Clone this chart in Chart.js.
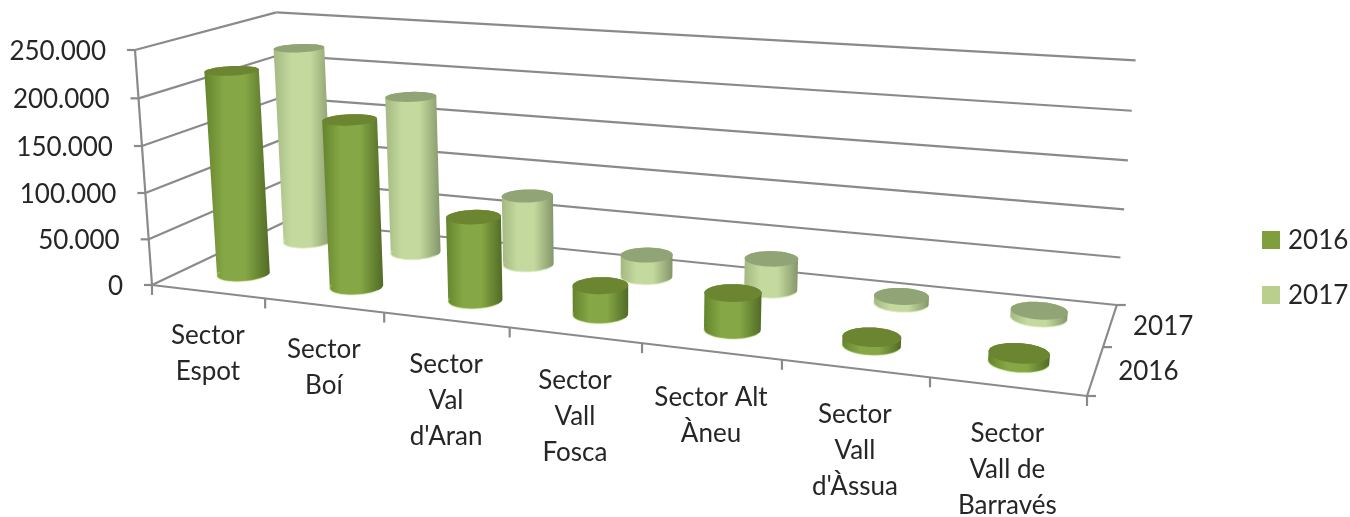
<!DOCTYPE html>
<html>
<head>
<meta charset="utf-8">
<script src="https://cdn.jsdelivr.net/npm/chart.js@4/dist/chart.umd.min.js"></script>
<style>
  html, body { margin: 0; padding: 0; background: #fff; }
  #wrap { width: 1350px; height: 517px; }
</style>
</head>
<body>
<div id="wrap"><canvas id="chart" width="1350" height="517"></canvas></div>
<script>
// Chart values
const categories = [
    ['Sector', 'Espot'],
    ['Sector', 'Boí'],
    ['Sector', 'Val', "d'Aran"],
    ['Sector', 'Vall', 'Fosca'],
    ['Sector Alt', 'Àneu'],
    ['Sector', 'Vall', "d'Àssua"],
    ['Sector', 'Vall de', 'Barravés']
];
const seriesNames = ['2016', '2017'];
const values2016 = [221000, 178500, 88000, 30000, 37000, 8000, 8500];
const values2017 = [223000, 177000, 77000, 24000, 33500, 7500, 7500];

const FONT = '26px Lato';
const TEXT_COLOR = '#262626';
const GRID_COLOR = '#8a8a8a';

// Colours per series: swatch, cylinder left edge, centre, right edge, top cap, base rim
const palette = [
    { swatch: '#7f9f3f', left: '#64842d', mid: '#86a745', right: '#506b26', cap: '#6c8530', rim: 'rgba(190,220,120,0.4)' },
    { swatch: '#b9cf8e', left: '#a3b982', mid: '#c4d99d', right: '#84966a', cap: '#91a476', rim: 'rgba(215,232,180,0.6)' }
];

// Where the corners of the 3D box land on screen (floor front/back, wall top)
const floorFrontLeft = { x: 152, y: 285 };
const floorFrontRight = { x: 1087, y: 396 };
const floorBackLeft = { x: 287, y: 221 };
const wallTopFront = { x: 135, y: 50 };
const weightRight = 0.826;
const weightBack = 1.133;
const weightUp = 0.965;
const DEPTH_RADIUS = 0.105;

/**
 * Project a box position to the screen
 * @param {number} u 0..1 along the categories
 * @param {number} v 0..1 from front to back
 * @param {number} z 0..1 up the value axis
 */
function project(u, v, z) {
    const o = floorFrontLeft;
    const ax = floorFrontRight.x * weightRight - o.x, ay = floorFrontRight.y * weightRight - o.y;
    const bx = floorBackLeft.x * weightBack - o.x, by = floorBackLeft.y * weightBack - o.y;
    const cx = wallTopFront.x * weightUp - o.x, cy = wallTopFront.y * weightUp - o.y;
    const w = 1 + u * (weightRight - 1) + v * (weightBack - 1) + z * (weightUp - 1);
    return {
        x: (o.x + u * ax + v * bx + z * cx) / w,
        y: (o.y + u * ay + v * by + z * cy) / w
    };
}

function line(ctx, a, b) {
    ctx.beginPath();
    ctx.moveTo(a.x, a.y);
    ctx.lineTo(b.x, b.y);
    ctx.stroke();
}

function convexHull(points) {
    const pts = points.slice().sort((a, b) => a.x - b.x || a.y - b.y);
    const cross = (o, a, b) => (a.x - o.x) * (b.y - o.y) - (a.y - o.y) * (b.x - o.x);
    const half = list => {
        const out = [];
        for (const p of list) {
            while (out.length >= 2 && cross(out[out.length - 2], out[out.length - 1], p) <= 0) out.pop();
            out.push(p);
        }
        out.pop();
        return out;
    };
    return half(pts).concat(half(pts.slice().reverse()));
}

function fillPolygon(ctx, pts, style) {
    ctx.beginPath();
    pts.forEach((p, i) => (i ? ctx.lineTo(p.x, p.y) : ctx.moveTo(p.x, p.y)));
    ctx.closePath();
    ctx.fillStyle = style;
    ctx.fill();
}

function circle(u, v, z, ru) {
    const pts = [];
    for (let i = 0; i < 48; i++) {
        const a = i / 48 * Math.PI * 2;
        pts.push(project(u + ru * Math.cos(a), v + DEPTH_RADIUS * Math.sin(a), z));
    }
    return pts;
}

function drawCylinder(ctx, u, v, z, ru, colors) {
    const bottom = circle(u, v, 0, ru);
    const top = circle(u, v, z, ru);
    const hull = convexHull(bottom.concat(top));
    const xs = hull.map(p => p.x);
    const left = Math.min(...xs), right = Math.max(...xs);
    const grad = ctx.createLinearGradient(left, 0, right, 0);
    grad.addColorStop(0, colors.left);
    grad.addColorStop(0.3, colors.mid);
    grad.addColorStop(0.62, colors.mid);
    grad.addColorStop(1, colors.right);
    fillPolygon(ctx, hull, grad);
    fillPolygon(ctx, top, colors.cap);

    // Pale rim along the front of the base (the first half of the circle is the back)
    ctx.save();
    ctx.strokeStyle = colors.rim;
    ctx.lineWidth = 1.5;
    ctx.beginPath();
    bottom.slice(25, 48).forEach((p, i) => (i ? ctx.lineTo(p.x, p.y) : ctx.moveTo(p.x, p.y)));
    ctx.stroke();
    ctx.restore();
}

// Draws the box, the cylinders and all axis texts from the chart's own scales
const box3d = {
    id: 'box3d',
    beforeDatasetsDraw(chart) {
        const ctx = chart.ctx;
        const xScale = chart.scales.x;
        const yScale = chart.scales.y;
        const toU = px => (px - xScale.left) / xScale.width;
        const toZ = px => (yScale.bottom - px) / yScale.height;

        ctx.save();
        ctx.strokeStyle = GRID_COLOR;
        ctx.lineWidth = 2.2;
        ctx.font = FONT;
        ctx.fillStyle = TEXT_COLOR;

        // Value gridlines over left and back walls, with ticks and labels
        ctx.textAlign = 'right';
        ctx.textBaseline = 'middle';
        yScale.ticks.forEach(tick => {
            const z = toZ(yScale.getPixelForValue(tick.value));
            const front = project(0, 0, z);
            const back = project(0, 1, z);
            line(ctx, { x: front.x - 8, y: front.y }, front);
            line(ctx, front, back);
            line(ctx, back, project(1, 1, z));
            ctx.fillText(tick.label, front.x - 29, front.y + 1.5);
        });

        // Axis edges
        line(ctx, project(0, 0, 0), project(0, 0, 1));
        line(ctx, project(0, 0, 0), project(1, 0, 0));
        line(ctx, project(1, 0, 0), project(1, 1, 0));

        // Category ticks and labels under the front edge
        const step = 1 / categories.length;
        for (let i = 0; i <= categories.length; i++) {
            const p = project(i * step, 0, 0);
            line(ctx, p, { x: p.x, y: p.y + 10 });
        }
        ctx.textAlign = 'center';
        categories.forEach((_, i) => {
            const u = toU(xScale.getPixelForValue(i));
            const p = project(u, 0, 0);
            const lines = xScale.getLabelForValue(i);
            lines.forEach((text, n) => ctx.fillText(text, p.x, p.y + 44 + 3 * u + n * 36));
        });

        // Depth ticks and labels on the right floor edge
        for (let i = 0; i <= seriesNames.length; i++) {
            const p = project(1, i / seriesNames.length, 0);
            line(ctx, p, { x: p.x + 9, y: p.y });
        }
        seriesNames.forEach((name, i) => {
            const p = project(1, (i + 0.5) / seriesNames.length, 0);
            ctx.fillText(name, p.x + 53, p.y + 1);
        });

        // Legend on the right
        ctx.textAlign = 'left';
        seriesNames.forEach((name, i) => {
            const y = 240 + i * 55;
            ctx.fillStyle = palette[i].swatch;
            ctx.fillRect(1262, y - 9, 18, 18);
            ctx.fillStyle = TEXT_COLOR;
            ctx.fillText(name, 1288, y + 1);
        });

        // Back row first so the front row covers it
        ctx.filter = 'blur(0.5px)';
        for (let di = chart.data.datasets.length - 1; di >= 0; di--) {
            const v = (di + 0.5) / chart.data.datasets.length;
            chart.getDatasetMeta(di).data.forEach(bar => {
                const u = toU(bar.x);
                const z = toZ(bar.y);
                const ru = bar.width / xScale.width / 2;
                drawCylinder(ctx, u, v, z, ru, palette[di]);
            });
        }
        ctx.restore();
        return false;
    }
};

new Chart(document.getElementById('chart'), {
    type: 'bar',
    data: {
        labels: categories,
        datasets: [
            { label: seriesNames[0], data: values2016, backgroundColor: palette[0].swatch },
            { label: seriesNames[1], data: values2017, backgroundColor: palette[1].swatch }
        ]
    },
    options: {
        responsive: false,
        animation: false,
        datasets: { bar: { grouped: false, barPercentage: 0.4, categoryPercentage: 1 } },
        scales: {
            x: { display: false },
            y: {
                display: false,
                min: 0,
                max: 250000,
                ticks: {
                    stepSize: 50000,
                    callback: value => value.toLocaleString('de-DE')
                }
            }
        },
        plugins: {
            tooltip: { enabled: false },
            legend: { display: false }
        }
    },
    plugins: [box3d]
});
</script>
</body>
</html>
